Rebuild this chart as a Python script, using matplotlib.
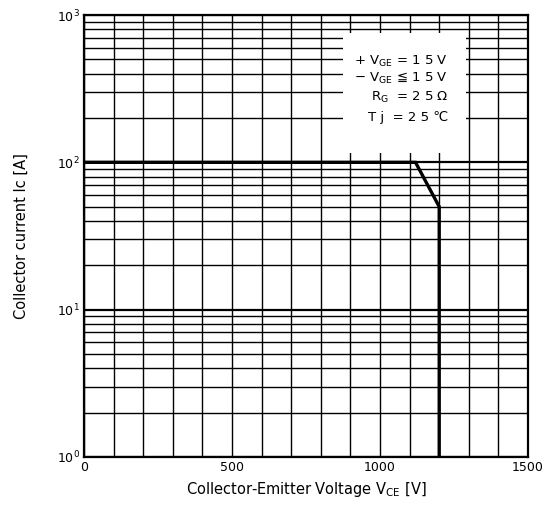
import matplotlib
matplotlib.use("Agg")
import matplotlib.pyplot as plt
from matplotlib.patches import Rectangle
from matplotlib.ticker import FixedLocator, FixedFormatter, LogLocator, NullFormatter

# RBSOA boundary
vce = [0, 1120, 1200, 1200]
ic = [100, 100, 50, 1]

xticks = [0, 500, 1000, 1500]
xticklabels = ["0", "500", "1000", "1500"]
yticks = [1, 10, 100, 1000]
yticklabels = [r"$10^{0}$", r"$10^{1}$", r"$10^{2}$", r"$10^{3}$"]

cond = [
    "+ V$_{\\mathrm{GE}}$ = 1 5 V",
    "\u2212 V$_{\\mathrm{GE}}$ \u2266 1 5 V",
    "R$_{\\mathrm{G}}$  = 2 5 \u03a9",
    "T j  = 2 5 \u2103",
]

plt.rcParams['font.family'] = ['DejaVu Sans']

fig = plt.figure(figsize=(5.44, 5.08), dpi=100)
ax = fig.add_axes([84 / 544, 51 / 508, 444 / 544, 442 / 508])

ax.set_yscale("log")
ax.set_xlim(0, 1500)
ax.set_ylim(1, 1000)

# grid: every 100 V, log minor lines in current
ax.xaxis.set_major_locator(FixedLocator(xticks))
ax.xaxis.set_major_formatter(FixedFormatter(xticklabels))
ax.xaxis.set_minor_locator(FixedLocator(list(range(0, 1501, 100))))
ax.yaxis.set_major_locator(FixedLocator(yticks))
ax.yaxis.set_major_formatter(FixedFormatter(yticklabels))
ax.yaxis.set_minor_locator(LogLocator(base=10, subs=range(2, 10)))
ax.yaxis.set_minor_formatter(NullFormatter())

ax.grid(True, which="both", color="black", linewidth=1.0)
ax.grid(True, which="major", axis="y", color="black", linewidth=1.6)
ax.set_axisbelow(True)
ax.tick_params(which="both", length=0, labelsize=9, pad=3)

for s in ax.spines.values():
    s.set_linewidth(1.6)
    s.set_color("black")

# white-out panel behind the condition text
ax.add_patch(Rectangle((875, 116), 415, 640, facecolor="white",
                       edgecolor="none", zorder=2))

ax.plot(vce, ic, color="black", linewidth=2.4, zorder=3, solid_joinstyle="miter")

ys = [0.896, 0.857, 0.814, 0.769]
for t, y in zip(cond, ys):
    ax.text(0.82, y, t, transform=ax.transAxes, ha="right", va="center",
            fontsize=9.5, zorder=4)

ax.set_xlabel("Collector-Emitter Voltage V$_{\\mathrm{CE}}$ [V]", fontsize=10.5, labelpad=4)
ax.set_ylabel("Collector current Ic [A]", fontsize=10.5, labelpad=20)

fig.savefig("out.png", dpi=100)
